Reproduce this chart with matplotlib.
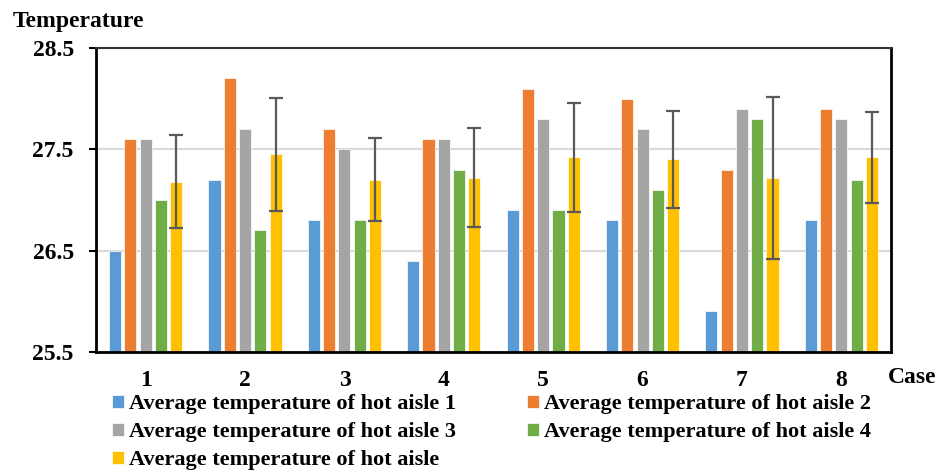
import matplotlib
matplotlib.use("Agg")
import matplotlib.pyplot as plt
import numpy as np

plt.rcParams['font.family'] = ['Liberation Serif', 'DejaVu Serif']
plt.rcParams['font.weight'] = 'bold'

cases = ["1", "2", "3", "4", "5", "6", "7", "8"]
aisle1 = [26.5, 27.2, 26.8, 26.4, 26.9, 26.8, 25.9, 26.8]
aisle2 = [27.6, 28.2, 27.7, 27.6, 28.1, 28.0, 27.3, 27.9]
aisle3 = [27.6, 27.7, 27.5, 27.6, 27.8, 27.7, 27.9, 27.8]
aisle4 = [27.0, 26.7, 26.8, 27.3, 26.9, 27.1, 27.8, 27.2]
aisle_avg = [27.18, 27.45, 27.2, 27.22, 27.42, 27.4, 27.22, 27.42]
aisle_err = [0.46, 0.56, 0.41, 0.49, 0.54, 0.48, 0.80, 0.45]

series = [aisle1, aisle2, aisle3, aisle4, aisle_avg]
labels = ["Average temperature of hot aisle 1",
          "Average temperature of hot aisle 2",
          "Average temperature of hot aisle 3",
          "Average temperature of hot aisle 4",
          "Average temperature of hot aisle"]
colors = ["#5B9BD5", "#ED7D31", "#A5A5A5", "#70AD47", "#FFC000"]
yticks = [25.5, 26.5, 27.5, 28.5]

fig = plt.figure(figsize=(9.38, 4.73), dpi=100)
ax = fig.add_axes([96/938, 1-352/473, (891-96)/938, (352-48)/473])

x = np.arange(len(cases))
slot = 0.154
width = 0.122
bars = []
for i, (vals, c, lab) in enumerate(zip(series, colors, labels)):
    off = (i - 2) * slot
    if i == 4:
        b = ax.bar(x + off, vals, width, color=c, label=lab, zorder=2,
                   edgecolor='white', linewidth=0.5,
                   yerr=aisle_err, capsize=5,
                   error_kw=dict(ecolor='#595959', elinewidth=1.6, capthick=1.6, zorder=3))
    else:
        b = ax.bar(x + off, vals, width, color=c, label=lab, zorder=2,
                   edgecolor='white', linewidth=0.5)
    bars.append(b)

ax.set_xlim(-0.5, len(cases) - 0.5)
ax.set_ylim(25.5, 28.5)
ax.set_yticks(yticks)
ax.set_yticklabels([f"{v:.1f}" for v in yticks], fontsize=17, fontweight='bold')
ax.set_xticks(x)
ax.set_xticklabels(cases, fontsize=17, fontweight='bold')
ax.tick_params(axis='x', length=0, pad=13)
ax.tick_params(axis='y', length=5, width=1.5, direction='out', pad=11)
ax.grid(axis='y', color='#D9D9D9', linewidth=1.5, zorder=0)
ax.set_axisbelow(True)
for side in ['left', 'bottom', 'right']:
    ax.spines[side].set_linewidth(2)
    ax.spines[side].set_color('black')
ax.spines['top'].set_linewidth(1.5)
ax.spines['top'].set_color('#333333')

fig.text(13/938, 1-27/473, "Temperature", fontsize=17, fontweight='bold', va='baseline', ha='left')
fig.text(888/938, 1-383/473, "Case", fontsize=17, fontweight='bold', va='baseline', ha='left')

order = [0, 2, 4, 1, 3]
leg = fig.legend([bars[i] for i in order], [labels[i] for i in order],
                 ncol=2, loc='upper left', bbox_to_anchor=(112/938, 1-394/473),
                 frameon=False, fontsize=16, handlelength=0.54, handleheight=0.54,
                 handletextpad=0.23, columnspacing=3.2, labelspacing=0.36,
                 borderaxespad=0, borderpad=0)
for t in leg.get_texts():
    t.set_fontweight('bold')

fig.savefig("out.png", dpi=100)
